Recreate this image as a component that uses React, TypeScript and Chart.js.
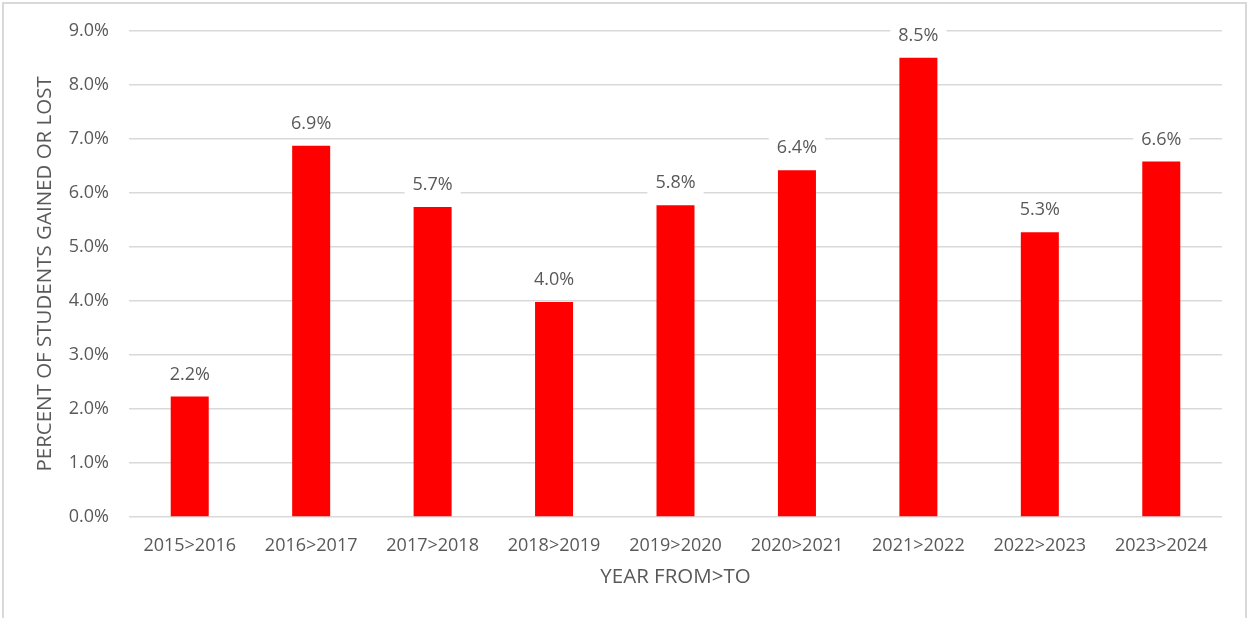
import React, { useEffect, useRef } from 'react';
import { Chart, registerables } from 'chart.js';

Chart.register(...registerables);

const categories = ['2015>2016', '2016>2017', '2017>2018', '2018>2019', '2019>2020', '2020>2021', '2021>2022', '2022>2023', '2023>2024'];
const values = [2.23, 6.87, 5.74, 3.98, 5.77, 6.42, 8.5, 5.27, 6.58];
const yMax = 9;
const yStep = 1;
const yTitle = 'PERCENT OF STUDENTS GAINED OR LOST';
const xTitle = 'YEAR FROM>TO';

const FONT = '"Open Sans", "Noto Sans", sans-serif';
const GRAY = '#595959';

const labelPlugin = {
  id: 'barLabels',
  afterDatasetsDraw(chart: any) {
    const ctx = chart.ctx;
    const meta = chart.getDatasetMeta(0);
    ctx.save();
    ctx.font = `18px ${FONT}`;
    meta.data.forEach((bar: any, i: number) => {
      const text = values[i].toFixed(1) + '%';
      const w = ctx.measureText(text).width + 16;
      const h = 24;
      const cx = bar.x;
      const cy = bar.y - 22;
      ctx.fillStyle = '#ffffff';
      ctx.fillRect(cx - w / 2, cy - h / 2, w, h);
      ctx.fillStyle = GRAY;
      ctx.textAlign = 'center';
      ctx.textBaseline = 'middle';
      ctx.fillText(text, cx, cy);
    });
    ctx.restore();
  },
};

export default function App() {
  const ref = useRef<HTMLCanvasElement>(null);
  useEffect(() => {
    if (!ref.current) return;
    const chart = new Chart(ref.current, {
      type: 'bar',
      data: {
        labels: categories,
        datasets: [
          {
            data: values,
            backgroundColor: '#ff0000',
            categoryPercentage: 1,
            barPercentage: 0.313,
          },
        ],
      },
      plugins: [labelPlugin],
      options: {
        responsive: false,
        animation: false,
        layout: { padding: { top: 29, right: 28, bottom: 0, left: 0 } },
        plugins: { legend: { display: false }, tooltip: { enabled: false } },
        scales: {
          x: {
            grid: { display: false, drawTicks: false },
            border: { display: false },
            ticks: { color: GRAY, font: { family: FONT, size: 18 }, padding: 18, maxRotation: 0 },
            title: { display: true, text: xTitle, color: GRAY, font: { family: FONT, size: 20.5 }, padding: { top: 0, bottom: 29 } },
            afterFit: (s: any) => { s.height = 101; },
          },
          y: {
            min: 0,
            max: yMax,
            ticks: {
              stepSize: yStep,
              color: GRAY,
              font: { family: FONT, size: 18 },
              padding: 20,
              callback: (v: any) => Number(v).toFixed(1) + '%',
            },
            grid: { color: '#d9d9d9', lineWidth: 1.5, drawTicks: false },
            border: { display: false },
            title: { display: true, text: yTitle, color: GRAY, font: { family: FONT, size: 20.5 }, padding: { top: 33, bottom: 0 } },
            afterFit: (s: any) => { s.width = 129; },
          },
        },
      },
    });
    return () => chart.destroy();
  }, []);
  return (
    <div style={{ position: 'fixed', left: 0, top: 0, width: 1250, height: 618, overflow: 'hidden', background: '#fff' }}>
      <div style={{ position: 'absolute', left: 2, top: 2, width: 1245, height: 700, border: '2px solid #d9d9d9', boxSizing: 'border-box' }} />
      <canvas ref={ref} width={1250} height={618} style={{ position: 'absolute', left: 0, top: 0 }} />
    </div>
  );
}
